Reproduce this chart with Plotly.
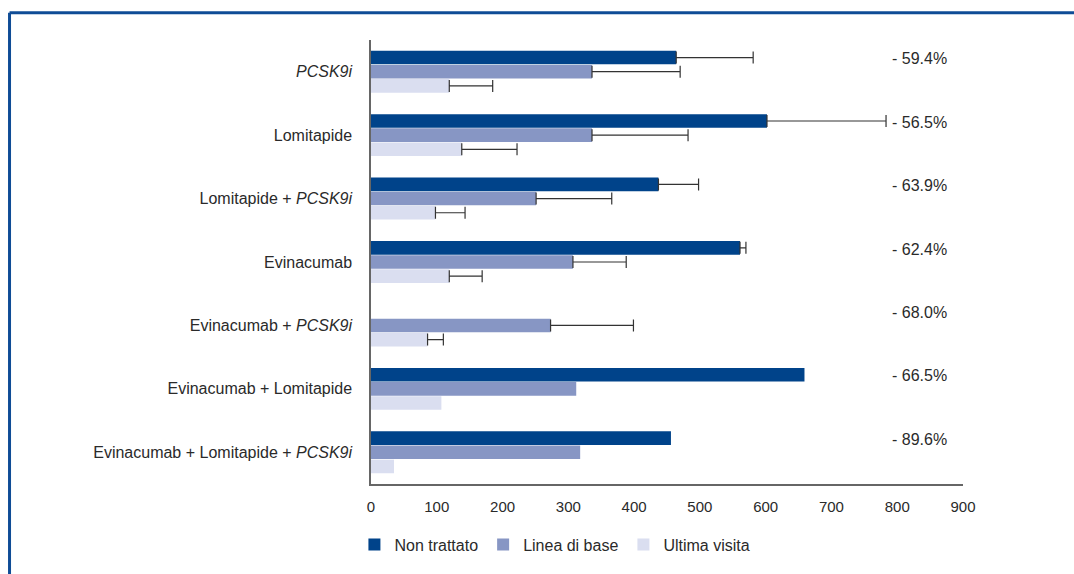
import plotly.graph_objects as go

# Treatment groups, top to bottom
categories = [
    "PCSK9i",
    "Lomitapide",
    "Lomitapide + PCSK9i",
    "Evinacumab",
    "Evinacumab + PCSK9i",
    "Evinacumab + Lomitapide",
    "Evinacumab + Lomitapide + PCSK9i",
]

series_names = ["Non trattato", "Linea di base", "Ultima visita"]

non_trattato = [464, 602, 437, 561, None, 659, 456]
non_trattato_err = [117, 181, 61, 9, None, None, None]

linea_di_base = [336, 336, 251, 307, 273, 312, 318]
linea_di_base_err = [134, 146, 115, 81, 126, None, None]

ultima_visita = [119, 138, 98, 119, 86, 107, 35]
ultima_visita_err = [66, 84, 45, 50, 24, None, None]

reductions = [-59.4, -56.5, -63.9, -62.4, -68.0, -66.5, -89.6]

x_ticks = [0, 100, 200, 300, 400, 500, 600, 700, 800, 900]

colors = ["#00438a", "#8796c4", "#dadef0"]
text_color = "#2a2a2a"
font_family = "Liberation Sans, Arial, sans-serif"

# Tick labels with the drug class name set in italics
tick_text = [c.replace("PCSK9i", "<i>PCSK9i</i>") for c in categories]


def err_values(errs, minus=False):
    # "NaN" strings stay NaN in plotly.js, so groups without a bar
    # or without a reported spread get no error whisker at all
    return ["NaN" if e is None else (0 if minus else e) for e in errs]


fig = go.Figure()
for name, vals, errs, col in zip(
    series_names,
    [non_trattato, linea_di_base, ultima_visita],
    [non_trattato_err, linea_di_base_err, ultima_visita_err],
    colors,
):
    fig.add_trace(
        go.Bar(
            name=name,
            y=categories,
            x=vals,
            orientation="h",
            marker=dict(color=col, line=dict(width=0)),
            error_x=dict(
                type="data",
                symmetric=False,
                array=err_values(errs),
                arrayminus=err_values(errs, minus=True),
                color="#333333",
                thickness=1.2,
                width=6,
            ),
        )
    )

# Percentage change labels on the right of each group
for cat, r in zip(categories, reductions):
    fig.add_annotation(
        x=789,
        y=cat,
        xref="x",
        yref="y",
        text=f"- {abs(r):.1f}%",
        showarrow=False,
        xanchor="left",
        yanchor="middle",
        yshift=13,
        font=dict(size=16, color=text_color, family=font_family),
    )

# Blue frame: top and left edges
frame_color = "#0f4c96"
fig.add_shape(type="line", xref="paper", yref="paper",
              x0=-0.6106, x1=1.25, y0=1.0615, y1=1.0615,
              line=dict(color=frame_color, width=3))
fig.add_shape(type="line", xref="paper", yref="paper",
              x0=-0.6106, x1=-0.6106, y0=1.0615, y1=-0.3,
              line=dict(color=frame_color, width=3))

fig.update_layout(
    width=1074,
    height=574,
    margin=dict(l=371, r=111, t=40, b=87),
    paper_bgcolor="white",
    plot_bgcolor="white",
    barmode="group",
    bargap=0.33,
    bargroupgap=0.04,
    font=dict(family=font_family, size=16, color=text_color),
    showlegend=True,
    legend=dict(
        orientation="h",
        x=-0.028,
        xanchor="left",
        y=-0.1365,
        yanchor="middle",
        font=dict(size=16, color=text_color),
        itemwidth=30,
        traceorder="normal",
    ),
)

fig.update_xaxes(
    range=[0, 900],
    tickvals=x_ticks,
    ticktext=[str(t) for t in x_ticks],
    showgrid=False,
    zeroline=False,
    showline=True,
    linecolor="#666666",
    linewidth=1.5,
    ticks="",
    ticklabelstandoff=8,
    tickfont=dict(size=15, color=text_color),
)

fig.update_yaxes(
    categoryorder="array",
    categoryarray=categories,
    tickvals=categories,
    ticktext=tick_text,
    autorange="reversed",
    showgrid=False,
    zeroline=False,
    showline=True,
    linecolor="#666666",
    linewidth=1.5,
    ticks="",
    ticklabelstandoff=14,
    tickfont=dict(size=16, color=text_color),
)

fig.write_html("out.html")
